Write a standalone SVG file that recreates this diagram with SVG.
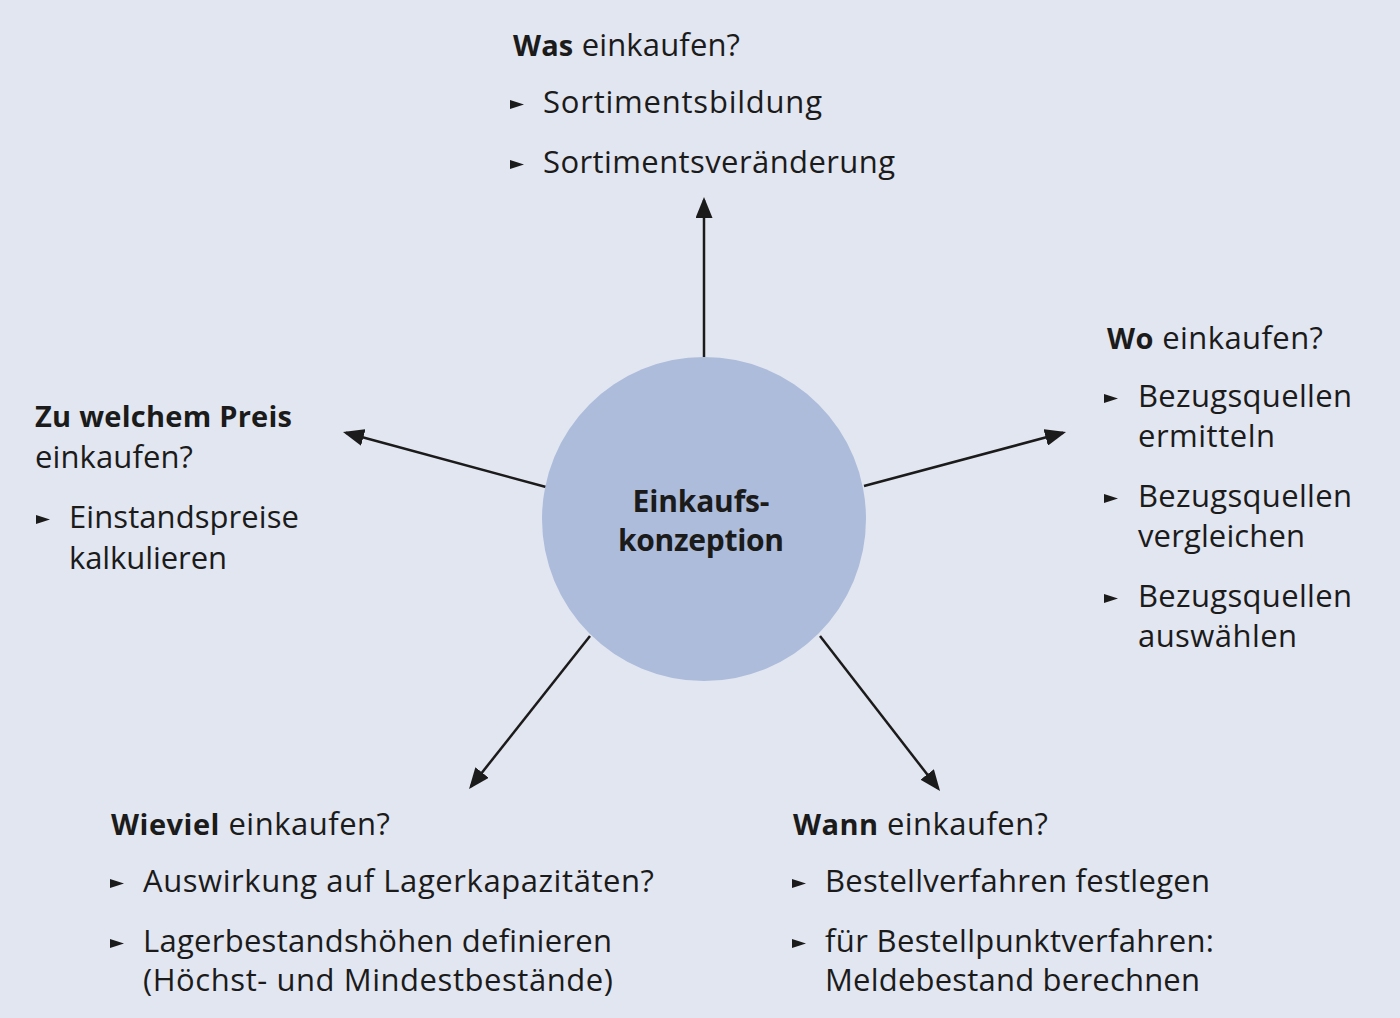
<svg xmlns="http://www.w3.org/2000/svg" width="1400" height="1018" viewBox="0 0 1400 1018">
<style>
text{font-family:"Open Sans","Liberation Sans",sans-serif;font-size:31px;fill:#1b1b1b}
.b{font-weight:bold;font-size:29px}
.c{font-weight:bold;font-size:30px;text-anchor:middle}
.bul{fill:#1b1b1b}
.con{stroke:#1b1b1b;stroke-width:2.5;fill:none;marker-end:url(#ah)}
</style>
<defs>
<marker id="ah" viewBox="0 0 21 17" markerUnits="userSpaceOnUse" markerWidth="21" markerHeight="17" refX="18" refY="8.5" orient="auto">
<path d="M0,0 L21,8.5 L0,17 z" fill="#1b1b1b"/>
</marker>
<polygon id="bt" points="0,-4.5 14,0 0,4.5"/>
</defs>
<rect width="1400" height="1018" fill="#e2e6f0"/>
<g id="connectors">
<line class="con" x1="704" y1="357" x2="704" y2="200"/>
<line class="con" x1="864" y1="486" x2="1063.1" y2="432.8"/>
<line class="con" x1="546" y1="487" x2="345.9" y2="432.8"/>
<line class="con" x1="590" y1="636" x2="470.9" y2="786.6"/>
<line class="con" x1="820" y1="636" x2="938.2" y2="788.6"/>
</g>
<g id="center">
<circle cx="704" cy="519" r="162" fill="#adbcdb"/>
<text class="c" x="701" y="512" textLength="137">Einkaufs-</text>
<text class="c" x="701" y="551" textLength="166">konzeption</text>
</g>
<g id="was">
<text x="513" y="56" textLength="227"><tspan class="b">Was</tspan> einkaufen?</text>
<use href="#bt" class="bul" x="510" y="104.5"/>
<text x="543" y="113" textLength="279">Sortimentsbildung</text>
<use href="#bt" class="bul" x="510" y="164.5"/>
<text x="543" y="173" textLength="352">Sortimentsveränderung</text>
</g>
<g id="wo">
<text x="1107" y="349" textLength="216"><tspan class="b">Wo</tspan> einkaufen?</text>
<use href="#bt" class="bul" x="1104" y="398.5"/>
<text x="1138" y="407" textLength="214">Bezugsquellen</text>
<text x="1138" y="447" textLength="137">ermitteln</text>
<use href="#bt" class="bul" x="1104" y="498.5"/>
<text x="1138" y="507" textLength="214">Bezugsquellen</text>
<text x="1138" y="547" textLength="167">vergleichen</text>
<use href="#bt" class="bul" x="1104" y="598.5"/>
<text x="1138" y="607" textLength="214">Bezugsquellen</text>
<text x="1138" y="647" textLength="159">auswählen</text>
</g>
<g id="preis">
<text class="b" x="35" y="427" textLength="257">Zu welchem Preis</text>
<text x="35" y="468" textLength="158">einkaufen?</text>
<use href="#bt" class="bul" x="36" y="519.5"/>
<text x="69" y="528" textLength="230">Einstandspreise</text>
<text x="69" y="569" textLength="158">kalkulieren</text>
</g>
<g id="wieviel">
<text x="111" y="835" textLength="279"><tspan class="b">Wieviel</tspan> einkaufen?</text>
<use href="#bt" class="bul" x="110" y="883.5"/>
<text x="143" y="892" textLength="511">Auswirkung auf Lagerkapazitäten?</text>
<use href="#bt" class="bul" x="110" y="943.5"/>
<text x="143" y="952" textLength="469">Lagerbestandshöhen definieren</text>
<text x="143" y="991" textLength="470">(Höchst- und Mindestbestände)</text>
</g>
<g id="wann">
<text x="793" y="835" textLength="255"><tspan class="b">Wann</tspan> einkaufen?</text>
<use href="#bt" class="bul" x="792" y="883.5"/>
<text x="825" y="892" textLength="385">Bestellverfahren festlegen</text>
<use href="#bt" class="bul" x="792" y="943.5"/>
<text x="825" y="952" textLength="389">für Bestellpunktverfahren:</text>
<text x="825" y="991" textLength="375">Meldebestand berechnen</text>
</g>
</svg>
